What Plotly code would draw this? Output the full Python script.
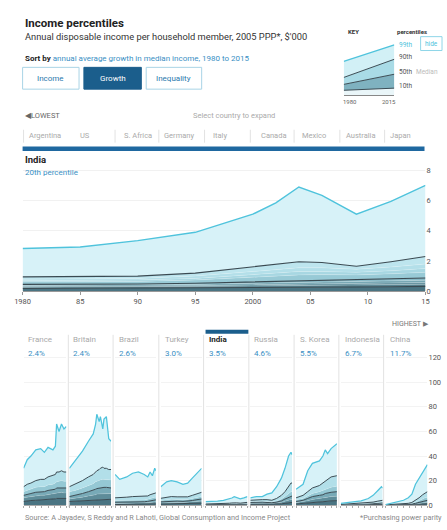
import plotly.graph_objects as go

W, H = 447, 530


def px(x):
    return x / W


def py(y):
    return 1 - y / H


# ------------------------------------------------------------------ data
INDIA_YEARS = [1980, 1985, 1990, 1995, 2000, 2002, 2004, 2006, 2009, 2012, 2015]
INDIA = {
    10: [0.18, 0.19, 0.20, 0.21, 0.23, 0.24, 0.26, 0.27, 0.28, 0.30, 0.32],
    20: [0.26, 0.27, 0.28, 0.30, 0.34, 0.36, 0.38, 0.39, 0.40, 0.43, 0.46],
    30: [0.32, 0.33, 0.34, 0.37, 0.42, 0.44, 0.47, 0.49, 0.50, 0.54, 0.58],
    40: [0.38, 0.39, 0.41, 0.45, 0.52, 0.55, 0.58, 0.61, 0.62, 0.67, 0.72],
    50: [0.45, 0.46, 0.48, 0.53, 0.62, 0.66, 0.70, 0.74, 0.75, 0.82, 0.88],
    60: [0.62, 0.63, 0.65, 0.74, 0.92, 1.00, 1.08, 1.10, 1.08, 1.15, 1.25],
    70: [0.70, 0.72, 0.74, 0.85, 1.10, 1.20, 1.30, 1.30, 1.25, 1.35, 1.50],
    80: [0.80, 0.82, 0.85, 1.00, 1.30, 1.45, 1.55, 1.55, 1.45, 1.60, 1.80],
    90: [0.95, 0.97, 1.00, 1.20, 1.60, 1.80, 1.95, 1.90, 1.65, 1.95, 2.30],
    99: [2.83, 2.93, 3.35, 3.90, 5.10, 5.85, 6.90, 6.35, 5.10, 5.95, 7.00],
}

FRANCE_YEARS = [1980, 1983, 1986, 1990, 1994, 1997, 2000, 2004, 2006, 2007, 2009, 2011, 2013, 2015]
FRANCE = {
    10: [3, 3.5, 3.8, 4, 4.2, 4.3, 4.6, 5, 5.2, 5.5, 5.5, 5.8, 5.5, 5.5],
    30: [6, 6.5, 7, 7.5, 8, 8, 8.5, 9, 9.5, 10, 10, 10.5, 10, 10],
    50: [8, 9, 9.5, 10.5, 11, 11, 12, 12.5, 13, 14, 14, 14.5, 14, 14],
    70: [11, 12, 13, 14.5, 15, 15, 16.5, 17, 18, 19, 19.5, 20, 19.5, 19.5],
    90: [15, 17, 18, 20, 21, 21, 23, 24, 25, 27, 27, 28, 27, 27],
    99: [30, 37, 40, 45, 46, 43, 47, 45, 48, 66, 60, 66, 62, 64],
}

BRITAIN_YEARS = [1980, 1985, 1991, 1996, 2000, 2002, 2003, 2005, 2006, 2008, 2009, 2011, 2013, 2015]
BRITAIN = {
    10: [3, 3.2, 3.5, 3.8, 4, 4.2, 4.4, 4.5, 4.6, 4.7, 4.7, 4.8, 4.8, 4.8],
    30: [5, 5.5, 6.5, 7.5, 8, 8.5, 9, 9, 9.5, 9.5, 9.5, 9.5, 9.5, 9.5],
    50: [7, 8, 9.5, 11, 12, 13, 13.5, 14, 14, 14.5, 14.5, 14.5, 14, 14],
    70: [11, 12, 14, 16, 17.5, 19, 19.5, 20, 20.5, 21, 21, 21, 20.5, 20.5],
    90: [15, 17, 20, 23, 25, 27, 28, 29, 30, 31, 30, 30, 29, 29],
    99: [30, 36, 44, 52, 58, 66, 74, 68, 72, 62, 70, 72, 54, 52],
}

BRAZIL_YEARS = [1980, 1984, 1990, 1995, 2000, 2005, 2008, 2010, 2012, 2014, 2015]
BRAZIL = {
    10: [0.5, 0.5, 0.55, 0.6, 0.6, 0.65, 0.75, 0.9, 1, 1.1, 1.1],
    30: [1.4, 1.4, 1.5, 1.6, 1.6, 1.7, 1.9, 2.2, 2.5, 2.8, 2.8],
    50: [2.4, 2.4, 2.5, 2.7, 2.7, 2.8, 3.1, 3.6, 4, 4.4, 4.4],
    70: [3.8, 3.8, 4, 4.3, 4.3, 4.3, 4.8, 5.5, 6, 6.5, 6.5],
    90: [6, 6, 6.5, 7, 7, 7, 7.5, 8.5, 9, 10, 10],
    99: [25, 21, 23, 26, 27, 25, 23, 27, 24, 30, 28],
}

TURKEY_YEARS = [1980, 1985, 1989, 1994, 1999, 2003, 2007, 2011, 2015]
TURKEY = {
    10: [0.9, 1.05, 1.15, 1.1, 1.05, 1.1, 1.3, 1.5, 1.7],
    30: [1.8, 2.1, 2.3, 2.2, 2.1, 2.2, 2.6, 3, 3.4],
    50: [2.7, 3.1, 3.4, 3.3, 3.1, 3.3, 3.8, 4.5, 5],
    70: [3.8, 4.4, 4.8, 4.6, 4.4, 4.6, 5.4, 6.4, 7],
    90: [5.6, 6.5, 7, 6.8, 6.5, 6.8, 8, 9.5, 10.5],
    99: [15, 19, 20, 19, 17, 18, 22, 26, 30],
}

RUSSIA_YEARS = [1980, 1985, 1990, 1994, 1998, 2002, 2006, 2009, 2012, 2014, 2015]
RUSSIA = {
    10: [0.7, 0.8, 0.8, 0.7, 0.6, 0.8, 1.1, 1.5, 2, 2.3, 2.3],
    30: [1.5, 1.7, 1.7, 1.5, 1.3, 1.7, 2.3, 3.2, 4.2, 4.8, 4.8],
    50: [2.2, 2.5, 2.5, 2.2, 2, 2.5, 3.5, 5, 6.5, 7.5, 7.5],
    70: [3, 3.3, 3.3, 3, 2.7, 3.5, 5, 7, 9.5, 11, 11],
    90: [4, 4.5, 4.5, 4.5, 4, 5.5, 8, 11, 15, 18, 18],
    99: [6, 7, 7, 9, 10, 15, 22, 30, 40, 43, 41],
}

KOREA_YEARS = [1980, 1986, 1990, 1994, 2000, 2003, 2005, 2007, 2010, 2015]
KOREA = {
    10: [1, 1.3, 1.8, 2.3, 2.6, 2.8, 3.1, 3.3, 3.5, 3.7],
    30: [2, 2.6, 3.6, 4.6, 5.2, 5.6, 6.2, 6.5, 7, 7.3],
    50: [3, 4, 5.5, 7, 8, 8.5, 9.5, 10, 10.5, 11],
    70: [4.5, 5.5, 7.5, 9.5, 11, 12, 13, 13.5, 14.5, 15.5],
    90: [6, 8, 11, 14, 16, 18, 20, 21, 23, 24],
    99: [13, 17, 28, 34, 36, 40, 45, 42, 46, 50],
}

INDONESIA_YEARS = [1980, 1988, 1997, 2003, 2007, 2011, 2014, 2015]
INDONESIA = {
    10: [0.12, 0.2, 0.3, 0.35, 0.45, 0.6, 0.7, 0.7],
    30: [0.22, 0.35, 0.5, 0.6, 0.8, 1.0, 1.2, 1.2],
    50: [0.3, 0.5, 0.7, 0.9, 1.1, 1.5, 1.8, 1.8],
    70: [0.4, 0.7, 0.9, 1.2, 1.6, 2.1, 2.6, 2.6],
    90: [0.6, 1, 1.4, 1.8, 2.5, 3.3, 4, 4],
    99: [1.5, 2.7, 3.5, 5.4, 8, 12, 15, 14],
}

CHINA_YEARS = [1980, 1986, 1991, 1995, 1999, 2002, 2005, 2008, 2011, 2013, 2015]
CHINA = {
    10: [0.08, 0.13, 0.17, 0.2, 0.25, 0.3, 0.42, 0.6, 0.8, 0.95, 1.05],
    30: [0.15, 0.25, 0.32, 0.38, 0.48, 0.62, 0.9, 1.3, 1.8, 2.1, 2.4],
    50: [0.2, 0.35, 0.45, 0.55, 0.7, 0.95, 1.5, 2.2, 3, 3.6, 4],
    70: [0.25, 0.45, 0.6, 0.75, 1, 1.4, 2.4, 3.5, 5, 6, 6.5],
    90: [0.3, 0.6, 0.8, 1, 1.5, 2.2, 4, 6, 8.5, 10, 11],
    99: [0.5, 2, 3, 4, 6, 9, 17, 22, 27, 30, 33],
}

KEY_YEARS = [1980, 2015]
KEY = {
    10: [0.9, 1.3],
    50: [2.0, 3.9],
    90: [3.3, 6.7],
    99: [6.3, 9.4],
}

COUNTRIES = ["France", "Britain", "Brazil", "Turkey", "India", "Russia", "S. Korea", "Indonesia", "China"]
GROWTH = ["2.4%", "2.4%", "2.6%", "3.0%", "3.5%", "4.6%", "5.5%", "6.7%", "11.7%"]
PANEL_DATA = [
    (FRANCE_YEARS, FRANCE), (BRITAIN_YEARS, BRITAIN), (BRAZIL_YEARS, BRAZIL),
    (TURKEY_YEARS, TURKEY), (INDIA_YEARS, INDIA), (RUSSIA_YEARS, RUSSIA),
    (KOREA_YEARS, KOREA), (INDONESIA_YEARS, INDONESIA), (CHINA_YEARS, CHINA),
]
TOP_COUNTRIES = ["Argentina", "US", "S. Africa", "Germany", "Italy", "Canada", "Mexico", "Australia", "Japan"]

MAIN_XTICKS = [1980, 1985, 1990, 1995, 2000, 2005, 2010, 2015]
MAIN_XLABELS = ["1980", "85", "90", "95", "2000", "05", "10", "15"]
MAIN_YTICKS = [0, 2, 4, 6, 8]
SMALL_YTICKS = [0, 20, 40, 60, 80, 100, 120]

# ------------------------------------------------------------------ style
FONT = "Roboto"
CYAN = "#4fc3dc"
DARK = "#3a4a52"
BLUE = "#1b5e8c"
LINKBLUE = "#3a8fc4"
GREY = "#9a9a9a"

MAIN_COLORS = ["#4a7482", "#56828f", "#64929f", "#74a5b2", "#86b9c6",
               "#98cad6", "#a7d7e2", "#b3dfe9", "#bde5ee", "#d7f2f8"]
SMALL_COLORS = ["#4a7482", "#5e8c99", "#78aab7", "#95c8d4", "#b2dfe9", "#d7f2f8"]
KEY_COLORS = ["#eaf6f9", "#7fb2c0", "#a9dbe6", "#d2f0f6"]


def line_style(p):
    if p == 99:
        return dict(color=CYAN, width=1.4)
    if p in (90, 50, 10):
        return dict(color=DARK, width=1.1)
    return dict(color="rgba(255,255,255,0.35)", width=0.5)


fig = go.Figure()


def add_bands(xs, series, pcts, colors, xa, ya, lw_scale=1.0):
    for i, p in enumerate(pcts):
        ls = line_style(p)
        ls["width"] = ls["width"] * lw_scale
        fig.add_trace(go.Scatter(
            x=xs, y=series[p], mode="lines",
            fill="tozeroy" if i == 0 else "tonexty",
            fillcolor=colors[i], line=ls,
            xaxis=xa, yaxis=ya, hoverinfo="skip", showlegend=False))


# main India chart
add_bands(INDIA_YEARS, INDIA, [10, 20, 30, 40, 50, 60, 70, 80, 90, 99], MAIN_COLORS, "x", "y")

# key chart
add_bands(KEY_YEARS, KEY, [10, 50, 90, 99], KEY_COLORS, "x2", "y2", 0.9)

# small multiples
SM_X = [(16, 60), (63, 106), (110, 152), (157, 199), (203, 246),
        (249, 292), (296, 338), (342, 385), (388, 431)]
for k, (yrs, data) in enumerate(PANEL_DATA):
    n = k + 3
    add_bands(yrs, data, [10, 30, 50, 70, 90, 99], SMALL_COLORS, f"x{n}", f"y{n}", 0.9)

layout = dict(
    width=W, height=H, margin=dict(l=0, r=0, t=0, b=0),
    paper_bgcolor="white", plot_bgcolor="rgba(0,0,0,0)",
    font=dict(family=FONT, size=8, color="#444"),
    showlegend=False,
)

# main axes
layout["xaxis"] = dict(domain=[px(15), px(429)], range=[1980, 2015], tickvals=MAIN_XTICKS,
                       ticktext=MAIN_XLABELS, ticks="outside", ticklen=3, tickcolor="#999",
                       showline=True, linecolor="#999", linewidth=1, showgrid=False,
                       zeroline=False, tickfont=dict(size=7.5, color="#555"), fixedrange=True)
layout["yaxis"] = dict(domain=[py(294), py(294 - 8.5 * 15.25)], range=[0, 8.5], side="right",
                       tickvals=MAIN_YTICKS, showgrid=True, gridcolor="#f1f1f1", zeroline=False,
                       tickfont=dict(size=7.5, color="#555"), ticks="", anchor="x", fixedrange=True)
# key axes
layout["xaxis2"] = dict(domain=[px(345), px(397)], range=[1980, 2015], showticklabels=False,
                        showgrid=False, zeroline=False, showline=True, linecolor="#888",
                        anchor="y2", fixedrange=True)
layout["yaxis2"] = dict(domain=[py(96), py(42)], range=[0, 10], showticklabels=False,
                        showgrid=False, zeroline=False, anchor="x2", fixedrange=True)
# small multiple axes
for k, (x0, x1) in enumerate(SM_X):
    n = k + 3
    last = k == len(SM_X) - 1
    layout[f"xaxis{n}"] = dict(domain=[px(x0), px(x1)], range=[1980, 2015], showticklabels=False,
                               dtick=5, tick0=1980, ticks="outside", ticklen=2, tickcolor="#aaa",
                               showline=True, linecolor="#aaa", showgrid=False, zeroline=False,
                               anchor=f"y{n}", fixedrange=True)
    layout[f"yaxis{n}"] = dict(domain=[py(510), py(340)], range=[0, 137], tickvals=SMALL_YTICKS,
                               showticklabels=last, side="right", showgrid=True, gridcolor="#f3f3f3",
                               zeroline=False, ticks="", tickfont=dict(size=7.5, color="#555"),
                               anchor=f"x{n}", fixedrange=True)

shapes = []
annotations = []


def text(x, y, s, size=8, color="#444", xanchor="left", bold=False):
    annotations.append(dict(xref="paper", yref="paper", x=px(x), y=py(y),
                            text=f"<b>{s}</b>" if bold else s, showarrow=False,
                            xanchor=xanchor, yanchor="middle",
                            font=dict(size=size, color=color, family=FONT)))


def rect(x0, y0, x1, y1, fill=None, line=None, lw=1):
    shapes.append(dict(type="rect", xref="paper", yref="paper", x0=px(x0), x1=px(x1),
                       y0=py(y1), y1=py(y0), fillcolor=fill or "rgba(0,0,0,0)",
                       line=dict(color=line or "rgba(0,0,0,0)", width=lw if line else 0),
                       layer="above"))


def vline(x, y0, y1, color="#e2e2e2"):
    shapes.append(dict(type="line", xref="paper", yref="paper", x0=px(x), x1=px(x),
                       y0=py(y0), y1=py(y1), line=dict(color=color, width=1), layer="below"))


# header
text(15, 23, "Income percentiles", size=11.5, color="#222", bold=True)
text(15, 37, "Annual disposable income per household member, 2005 PPP*, $'000", size=9.3, color="#333")
text(15, 59, f"<b>Sort by</b> <span style='color:{LINKBLUE}'>annual average growth in median income, 1980 to 2015</span>",
     size=8, color="#222")
rect(15, 68, 73, 90, line="#a9d4e6")
rect(78, 68, 137, 90, fill=BLUE, line=BLUE)
rect(142, 68, 199, 90, line="#a9d4e6")
text(44, 79, "Income", size=8, color="#2b79ad", xanchor="center")
text(107.5, 79, "Growth", size=8, color="white", xanchor="center")
text(170.5, 79, "Inequality", size=8, color="#2b79ad", xanchor="center")

# key
text(347, 32, "KEY", size=6, color="#333", bold=True)
text(398, 32, "percentiles", size=6, color="#333", bold=True)
text(400, 45, "99th", size=6.5, color=CYAN)
rect(424, 37, 446, 51, line="#8fd6e8")
text(435, 44, "hide", size=6.5, color=CYAN, xanchor="center")
text(400, 58, "90th", size=6.5, color="#555")
text(400, 73, "50th", size=6.5, color="#555")
text(417, 73, "Median", size=6.5, color="#bbb")
text(400, 87, "10th", size=6.5, color="#555")
text(351, 102, "1980", size=6, color="#666", xanchor="center")
text(391, 102, "2015", size=6, color="#666", xanchor="center")

# navigation row
text(15, 117, "◀LOWEST", size=7.5, color="#666")
text(232, 117, "Select country to expand", size=7.5, color="#aaa", xanchor="center")
TOP_X = [20, 72, 117, 158, 209, 258, 300, 345, 390]
for name, x in zip(TOP_COUNTRIES, TOP_X):
    text(x, 137, name, size=7.5, color="#aaa")
for x in [16, 110, 155, 202, 249, 294, 341, 387]:
    vline(x, 131, 144)
rect(15, 148, 428, 152.5, fill="#1f68a0")

# India main labels
text(15, 161, "India", size=9.5, color="#222", bold=True)
text(15, 174, "20th percentile", size=8, color=LINKBLUE)

# small multiple labels
text(435, 327, "HIGHEST ▶", size=7, color="#777", xanchor="right")
rect(203, 333, 247, 337, fill=BLUE)
for k, (name, g) in enumerate(zip(COUNTRIES, GROWTH)):
    x0 = SM_X[k][0]
    if name == "India":
        text(x0 + 2, 343, name, size=8, color="#222", bold=True)
    else:
        text(x0 + 2, 343, name, size=8, color="#aaa")
    text(x0 + 2, 357, g, size=8, color=LINKBLUE)
for x in [62, 108, 155, 201, 247.5, 294, 340, 386]:
    vline(x, 338, 512)

# footer
text(15, 522, "Source: A Jayadev, S Reddy and R Lahoti, Global Consumption and Income Project", size=7.3, color="#888")
text(448, 522, "*Purchasing power parity", size=7.3, color="#888", xanchor="right")

layout["shapes"] = shapes
layout["annotations"] = annotations
fig.update_layout(**layout)

fig.write_html("out.html", config={"displayModeBar": False, "staticPlot": True},
               post_script="document.body.style.margin='0';document.body.style.overflow='hidden';")
